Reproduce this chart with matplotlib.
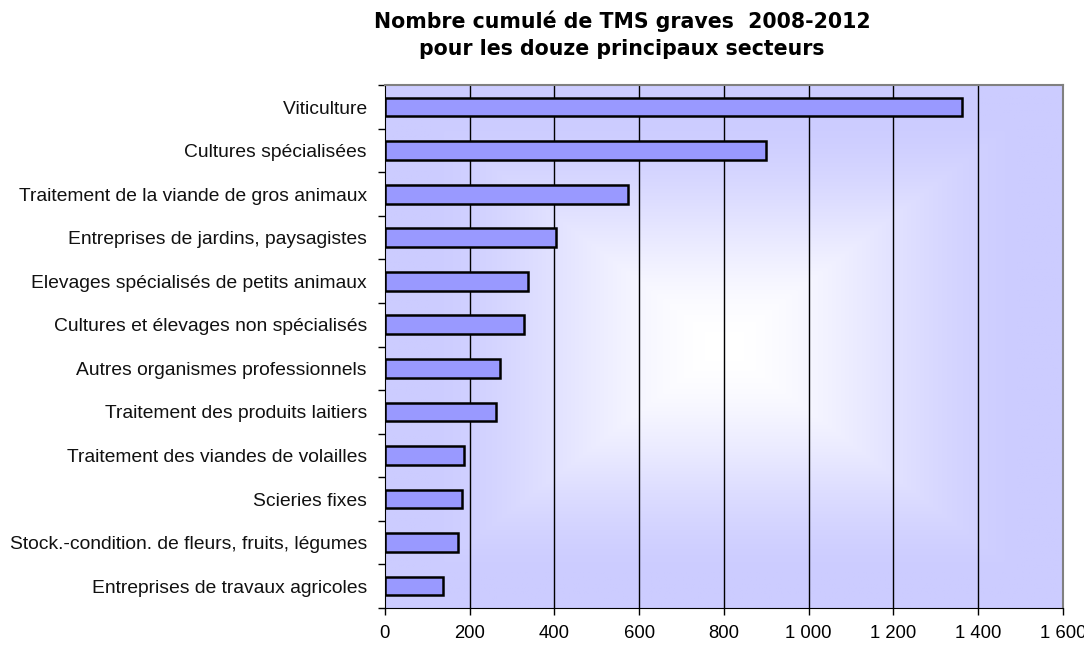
import numpy as np
import matplotlib
matplotlib.use("Agg")
import matplotlib.pyplot as plt
from matplotlib.colors import to_rgb
from matplotlib.ticker import FuncFormatter, FixedLocator

sectors = [
    "Viticulture",
    "Cultures spécialisées",
    "Traitement de la viande de gros animaux",
    "Entreprises de jardins, paysagistes",
    "Elevages spécialisés de petits animaux",
    "Cultures et élevages non spécialisés",
    "Autres organismes professionnels",
    "Traitement des produits laitiers",
    "Traitement des viandes de volailles",
    "Scieries fixes",
    "Stock.-condition. de fleurs, fruits, légumes",
    "Entreprises de travaux agricoles",
]
tms_counts = [1361, 899, 574, 405, 337, 329, 271, 263, 188, 183, 172, 138]
x_ticks = [0, 200, 400, 600, 800, 1000, 1200, 1400, 1600]

fig = plt.figure(figsize=(10.84, 6.46), dpi=100)
ax = fig.add_axes([0.355, 0.059, 0.6255, 0.809])

# gradient background, white in the middle, lavender at the edges
n = len(sectors)
u = np.linspace(-1, 1, 400)
v = np.linspace(-1, 1, 300)
U, V = np.meshgrid(u, v)
t = np.clip((np.maximum(np.abs(U), np.abs(V)) - 0.06) / 0.8, 0, 1)
t = t * t * (3 - 2 * t) * 0.6 + t * 0.4
edge = np.array(to_rgb("#ccccff"))
img = 1 - (1 - edge)[None, None, :] * t[..., None]
ax.imshow(img, extent=[0, 1600, n - 0.5, -0.5], aspect="auto", zorder=0)

y = np.arange(n)
ax.barh(y, tms_counts, height=0.43, color="#9999ff", edgecolor="black",
        linewidth=1.8, zorder=3)

ax.set_xlim(0, 1600)
ax.set_ylim(n - 0.5, -0.5)
ax.set_xticks(x_ticks)
ax.xaxis.set_major_formatter(FuncFormatter(lambda x, p: f"{int(x):,}".replace(",", " ")))
for xt in x_ticks[1:-1]:
    ax.axvline(xt, color="black", linewidth=1, zorder=1)

ax.set_yticks(y)
ax.set_yticklabels([s + " " for s in sectors], fontsize=13.85, family="Liberation Sans",
                   color="#111111")
ax.yaxis.set_minor_locator(FixedLocator(np.arange(-0.5, n, 1)))
ax.tick_params(axis="y", which="major", length=0, pad=9)
ax.tick_params(axis="y", which="minor", length=5, width=1, color="black")
ax.tick_params(axis="x", length=5, width=1, color="black", labelsize=13.3, pad=7)
for lab in ax.get_xticklabels():
    lab.set_family("Liberation Sans")

for side in ["top", "right"]:
    ax.spines[side].set_color("#808080")
    ax.spines[side].set_linewidth(1.5)
ax.spines["left"].set_color("black")
ax.spines["bottom"].set_color("black")

fig.text(0.574, 0.984, "Nombre cumulé de TMS graves  2008-2012\npour les douze principaux secteurs",
         ha="center", va="top", fontsize=14.8, fontweight="bold", family="DejaVu Sans",
         linespacing=1.45)

fig.savefig("out.png", dpi=100, facecolor="white")
